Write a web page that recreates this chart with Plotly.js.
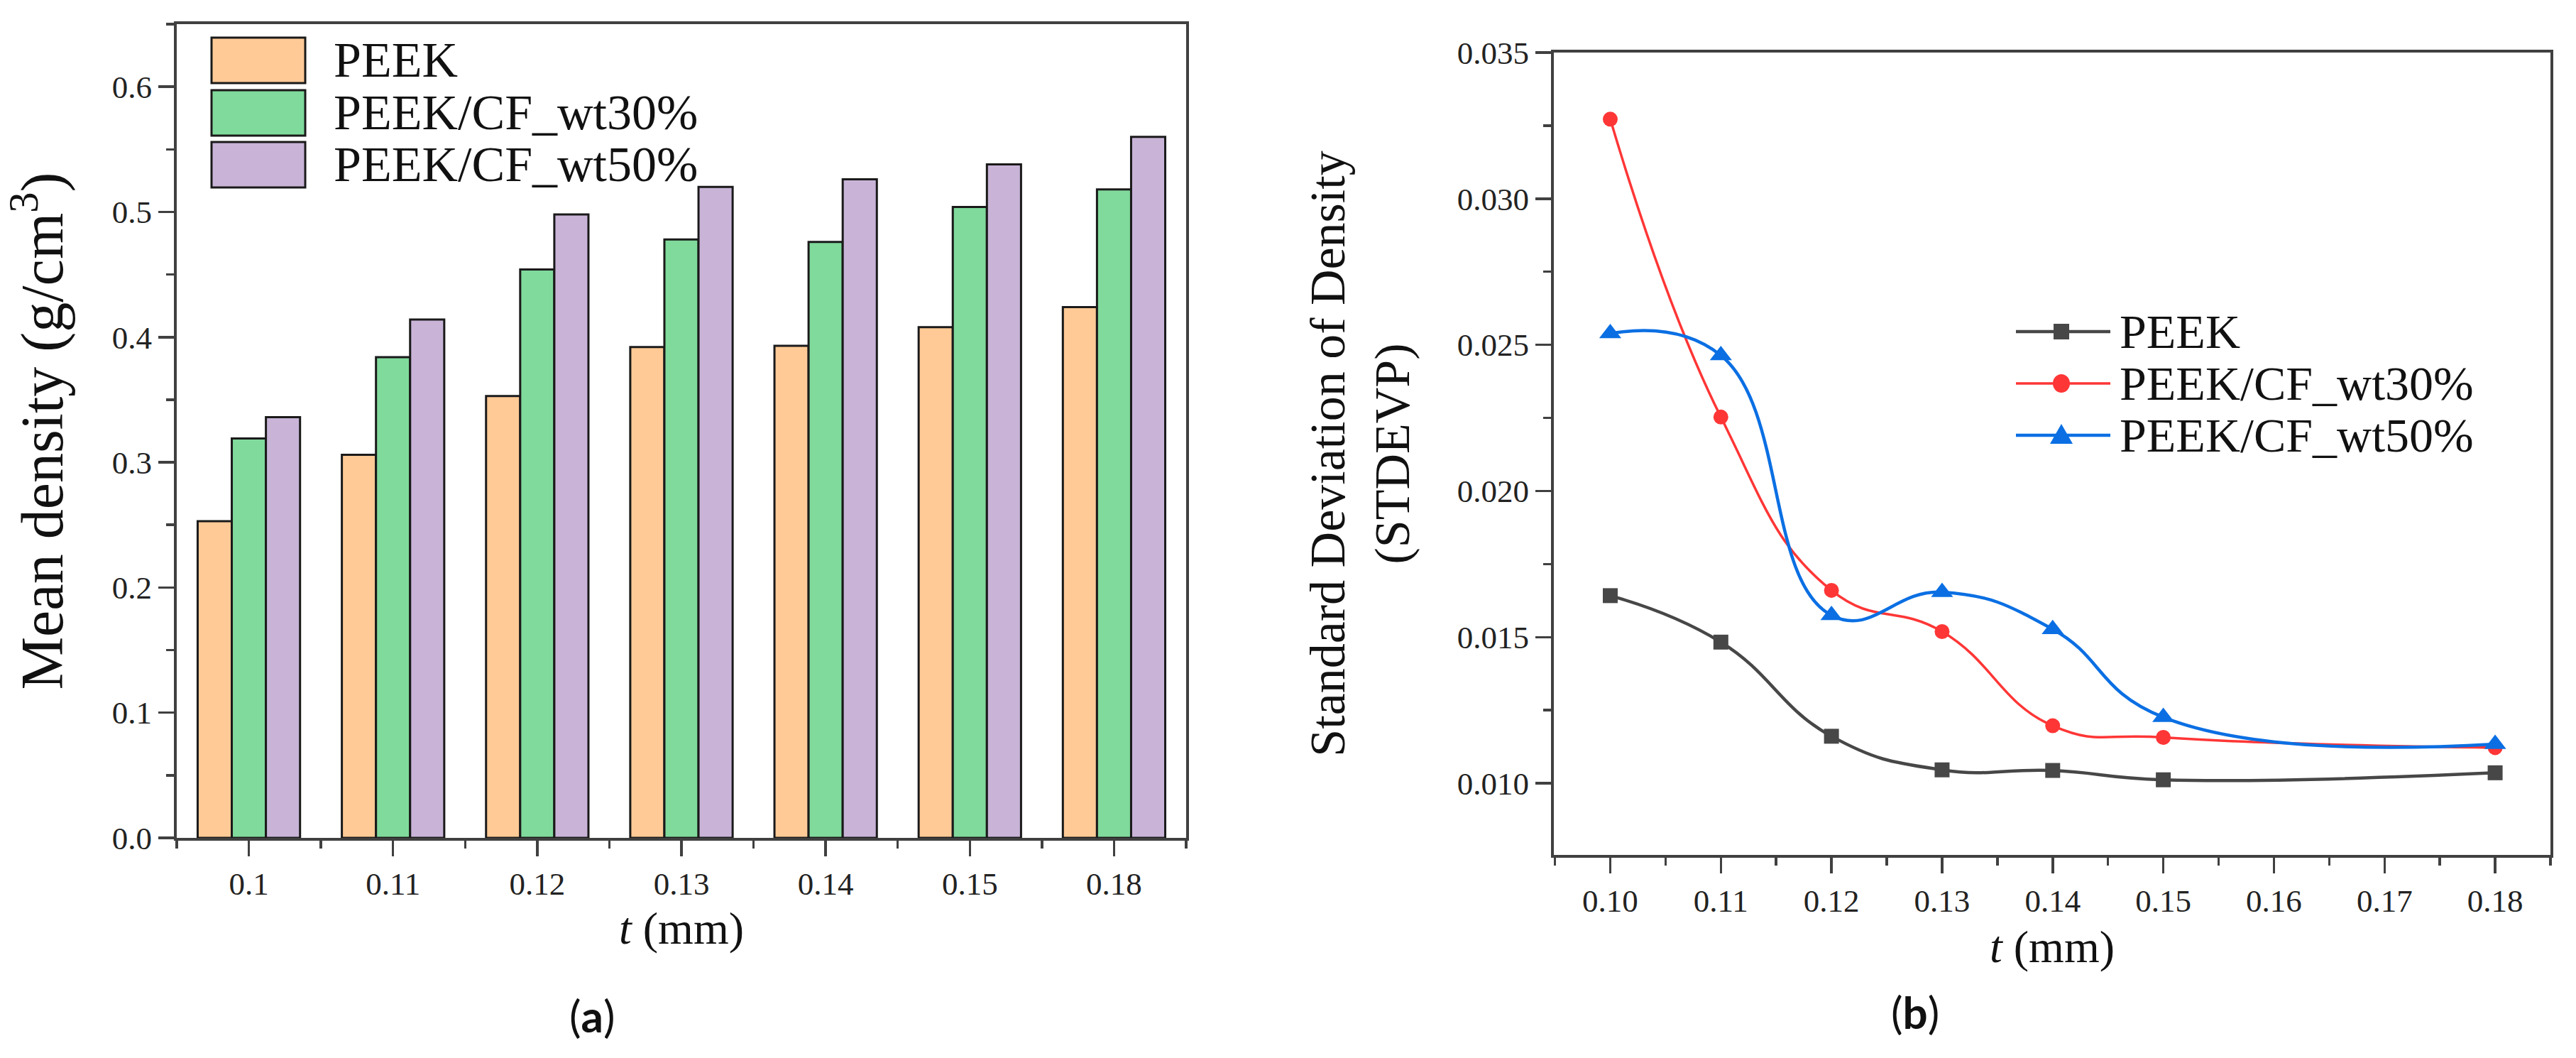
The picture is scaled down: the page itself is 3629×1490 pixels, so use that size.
<!DOCTYPE html>
<html>
<head>
<meta charset="utf-8">
<script src="https://cdn.plot.ly/plotly-3.0.1.min.js"></script>
<style>
  html, body { margin: 0; padding: 0; background: #fff; }
  #chart { width: 3629px; height: 1490px; }
</style>
</head>
<body>
<div id="chart"></div>
<script>
// ---- data ----
var categories = ['0.1', '0.11', '0.12', '0.13', '0.14', '0.15', '0.18'];
var seriesNames = ['PEEK', 'PEEK/CF_wt30%', 'PEEK/CF_wt50%'];

// (a) mean density, g/cm3
var densPEEK = [0.253, 0.306, 0.353, 0.392, 0.393, 0.408, 0.424];
var densCF30 = [0.319, 0.384, 0.454, 0.478, 0.476, 0.504, 0.518];
var densCF50 = [0.336, 0.414, 0.498, 0.520, 0.526, 0.538, 0.560];

// (b) standard deviation of density
var tValues = [0.10, 0.11, 0.12, 0.13, 0.14, 0.15, 0.18];
var sdPEEK = [0.01642, 0.01483, 0.01161, 0.01046, 0.01044, 0.01012, 0.01036];
var sdCF30 = [0.03272, 0.02253, 0.01660, 0.01519, 0.01197, 0.01157, 0.01122];
var sdCF50 = [0.02539, 0.02464, 0.01575, 0.01654, 0.01527, 0.01226, 0.01134];

var barColors = ['#FFCA96', '#80DA9C', '#C9B4D8'];
var lineColors = ['#474747', '#FF3636', '#0B6FE3'];
var markerSymbols = ['square', 'circle', 'triangle-up'];

var W = 3629, H = 1490;
function px(x) { return x / W; }
function py(y) { return 1 - y / H; }

var serif = 'Liberation Serif, Times New Roman, serif';
var axisCol = '#404040';

var catIdx = categories.map(function(c, i) { return i; });
var densities = [densPEEK, densCF30, densCF50];
var sds = [sdPEEK, sdCF30, sdCF50];

var traces = [];
densities.forEach(function(vals, k) {
    traces.push({
        type: 'bar',
        x: catIdx,
        y: vals,
        name: seriesNames[k],
        xaxis: 'x', yaxis: 'y',
        showlegend: false,
        marker: { color: barColors[k], line: { color: '#1a1a1a', width: 3 } }
    });
});
var lineWidths = [4.5, 3.5, 4.5];
var markerSizes = [21, 21, 27];
sds.forEach(function(vals, k) {
    traces.push({
        type: 'scatter',
        mode: 'lines+markers',
        x: tValues,
        y: vals,
        name: seriesNames[k],
        xaxis: 'x2', yaxis: 'y2',
        showlegend: false,
        line: { color: lineColors[k], width: lineWidths[k], shape: 'spline', smoothing: 1.3 },
        marker: { symbol: markerSymbols[k], size: markerSizes[k], color: lineColors[k] }
    });
});

var tickFont = { family: serif, size: 45, color: '#222' };
function axisBase() {
    return {
        showline: true, mirror: true, linecolor: axisCol, linewidth: 4,
        ticks: 'outside', ticklen: 22, tickwidth: 3.5, tickcolor: axisCol,
        showgrid: false, zeroline: false, tickfont: tickFont,
        automargin: false
    };
}

var xa = Object.assign(axisBase(), {
    domain: [px(249), px(1671)],
    anchor: 'y',
    range: [-0.5, categories.length - 0.5],
    tickmode: 'array', tickvals: catIdx, ticktext: categories,
    minor: { tickmode: 'linear', tick0: -0.5, dtick: 1, ticks: 'outside', ticklen: 11, tickwidth: 3.5, tickcolor: axisCol },
    title: { text: '<i>t</i> (mm)', font: { family: serif, size: 64, color: '#111' }, standoff: 16 }
});
var ya = Object.assign(axisBase(), {
    domain: [py(1180), py(34)],
    anchor: 'x',
    range: [0, 0.65],
    dtick: 0.1, tick0: 0, tickformat: '.1f',
    minor: { dtick: 0.05, ticks: 'outside', ticklen: 11, tickwidth: 3.5, tickcolor: axisCol },
    title: { text: 'Mean density (g/cm<sup>3</sup>)', font: { family: serif, size: 84, color: '#111' }, standoff: 42 }
});
var xb = Object.assign(axisBase(), {
    domain: [px(2189), px(3593)],
    anchor: 'y2',
    range: [0.0949, 0.185],
    dtick: 0.01, tick0: 0.1, tickformat: '.2f',
    minor: { dtick: 0.005, ticks: 'outside', ticklen: 11, tickwidth: 3.5, tickcolor: axisCol },
    title: { text: '<i>t</i> (mm)', font: { family: serif, size: 64, color: '#111' }, standoff: 18 }
});
var yb = Object.assign(axisBase(), {
    domain: [py(1204), py(74)],
    anchor: 'x2',
    range: [0.00755, 0.035],
    dtick: 0.005, tick0: 0, tickformat: '.3f',
    minor: { dtick: 0.0025, ticks: 'outside', ticklen: 11, tickwidth: 3.5, tickcolor: axisCol },
    title: { text: 'Standard Deviation of Density<br>(STDEVP)', font: { family: serif, size: 70, color: '#111' }, standoff: 45 }
});

var shapes = [];
var annotations = [];

// legend for panel (a): big swatches like the original
var rowsA = [[53, 117], [127, 191], [200, 264]];
seriesNames.forEach(function(n, k) {
    shapes.push({
        type: 'rect', xref: 'paper', yref: 'paper',
        x0: px(298), x1: px(430), y0: py(rowsA[k][1]), y1: py(rowsA[k][0]),
        fillcolor: barColors[k], line: { color: '#1a1a1a', width: 3 }
    });
    annotations.push({
        xref: 'paper', yref: 'paper', x: px(468), y: py((rowsA[k][0] + rowsA[k][1]) / 2),
        xanchor: 'left', yanchor: 'middle', showarrow: false,
        text: n, font: { family: serif, size: 70, color: '#111' }
    });
});

// legend for panel (b): line + marker samples, tight rows as in the original
var rowsB = [467, 540, 613];
var lx0 = 2840, lx1 = 2973, mx = 2904;
seriesNames.forEach(function(n, k) {
    var yc = rowsB[k];
    shapes.push({
        type: 'line', xref: 'paper', yref: 'paper',
        x0: px(lx0), x1: px(lx1), y0: py(yc), y1: py(yc),
        line: { color: lineColors[k], width: lineWidths[k] }
    });
    if (markerSymbols[k] === 'square') {
        shapes.push({ type: 'rect', xref: 'paper', yref: 'paper',
            x0: px(mx - 11), x1: px(mx + 11), y0: py(yc + 11), y1: py(yc - 11),
            fillcolor: lineColors[k], line: { width: 0 } });
    } else if (markerSymbols[k] === 'circle') {
        shapes.push({ type: 'circle', xref: 'paper', yref: 'paper',
            x0: px(mx - 12), x1: px(mx + 12), y0: py(yc + 13), y1: py(yc - 13),
            fillcolor: lineColors[k], line: { width: 0 } });
    } else {
        shapes.push({ type: 'path', xref: 'paper', yref: 'paper',
            path: 'M' + px(mx - 16) + ',' + py(yc + 12) + ' L' + px(mx + 16) + ',' + py(yc + 12) +
                  ' L' + px(mx) + ',' + py(yc - 16) + ' Z',
            fillcolor: lineColors[k], line: { width: 0 } });
    }
    annotations.push({
        xref: 'paper', yref: 'paper', x: px(2984), y: py(yc),
        xanchor: 'left', yanchor: 'middle', showarrow: false,
        text: n, font: { family: serif, size: 68, color: '#111' }
    });
});

annotations.push({
    xref: 'paper', yref: 'paper', x: px(834), y: py(1430), showarrow: false,
    xanchor: 'center', yanchor: 'middle',
    text: '(<b>a</b>)', font: { family: 'Lato, Noto Sans, sans-serif', size: 62, color: '#111' }
});
annotations.push({
    xref: 'paper', yref: 'paper', x: px(2698), y: py(1425), showarrow: false,
    xanchor: 'center', yanchor: 'middle',
    text: '(<b>b</b>)', font: { family: 'Lato, Noto Sans, sans-serif', size: 62, color: '#111' }
});

var layout = {
    width: W, height: H,
    margin: { l: 0, r: 0, t: 0, b: 0, pad: 0 },
    paper_bgcolor: '#fff', plot_bgcolor: '#fff',
    barmode: 'group', bargap: 0.29, bargroupgap: 0,
    xaxis: xa, yaxis: ya, xaxis2: xb, yaxis2: yb,
    showlegend: false,
    shapes: shapes,
    annotations: annotations
};

Plotly.newPlot('chart', traces, layout, { staticPlot: true });
</script>
</body>
</html>
